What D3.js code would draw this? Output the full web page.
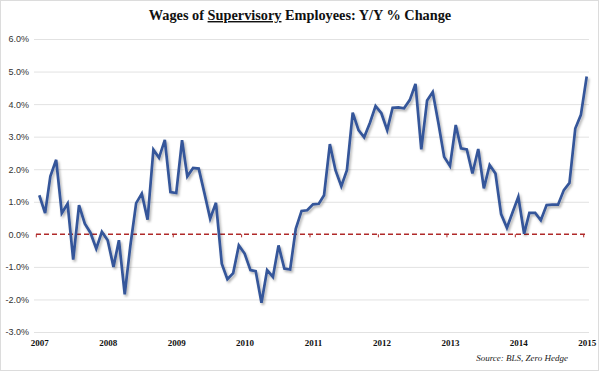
<!DOCTYPE html>
<html lang="en">

<head>
    <meta charset="UTF-8">
    <title>Wages of Supervisory Employees</title>
    <script src="https://cdn.jsdelivr.net/npm/d3@7"></script>
    <style>
        body { margin: 0; background: #fff; }
        svg { display: block; }
    </style>
</head>

<body>
    <div id="box"></div>

    <script>
        // monthly Y/Y % change, Jan 2007 .. Jan 2015
        var startMonth = new Date(2007, 0, 1);
        var endMonth = new Date(2015, 0, 1);
        var values2007 = [1.2, 0.65, 1.78, 2.29, 0.65, 0.94, -0.78, 0.9, 0.33, 0.05, -0.44, 0.08];
        var values2008 = [-0.18, -1.0, -0.18, -1.84, -0.35, 0.96, 1.25, 0.45, 2.6, 2.35, 2.9, 1.3];
        var values2009 = [1.27, 2.89, 1.78, 2.04, 2.02, 1.25, 0.48, 0.97, -0.9, -1.38, -1.19, -0.34];
        var values2010 = [-0.59, -1.1, -1.13, -2.1, -1.1, -1.31, -0.34, -1.05, -1.08, 0.17, 0.72, 0.74];
        var values2011 = [0.92, 0.94, 1.2, 2.77, 1.97, 1.48, 1.97, 3.74, 3.2, 2.98, 3.43, 3.94];
        var values2012 = [3.72, 3.2, 3.89, 3.9, 3.87, 4.13, 4.62, 2.61, 4.11, 4.37, 3.4, 2.38];
        var values2013 = [2.1, 3.36, 2.64, 2.61, 1.87, 2.62, 1.41, 2.13, 1.87, 0.62, 0.2, 0.67];
        var values2014 = [1.15, 0.02, 0.66, 0.66, 0.43, 0.9, 0.91, 0.91, 1.36, 1.58, 3.25, 3.67];
        var values2015 = [4.85];
        var yTicks = [-3, -2, -1, 0, 1, 2, 3, 4, 5, 6];
        var yearLabels = ["2007", "2008", "2009", "2010", "2011", "2012", "2013", "2014", "2015"];

        var values = [].concat(values2007, values2008, values2009, values2010, values2011,
            values2012, values2013, values2014, values2015);
        var months = d3.timeMonth.range(startMonth, d3.timeMonth.offset(endMonth, 1));
        var data = months.map((m, i) => ({ date: m, value: values[i] }));

        let width = 600,
            height = 372;

        var x = d3.scaleTime()
            .domain([startMonth, endMonth])
            .range([39.3, 586.7]);

        var y = d3.scaleLinear()
            .domain([-3, 6])
            .range([332, 39]);

        const svg = d3.select("#box")
            .append('svg')
            .attr('width', width)
            .attr('height', height);

        // shadow under the line, like the excel original
        svg.append('defs').append('filter')
            .attr('id', 'shadow')
            .attr('x', '-5%').attr('y', '-5%')
            .attr('width', '110%').attr('height', '110%')
            .append('feDropShadow')
            .attr('dx', 1.5).attr('dy', 2)
            .attr('stdDeviation', 1.2)
            .attr('flood-color', '#000')
            .attr('flood-opacity', 0.3);

        // frame
        svg.append('rect')
            .attr('x', 0.5).attr('y', 0.5)
            .attr('width', width - 2).attr('height', 370)
            .attr('fill', '#fff')
            .attr('stroke', '#dcdcdc');

        // title
        var title = svg.append('text')
            .attr('x', 300).attr('y', 20)
            .attr('text-anchor', 'middle')
            .style('font-family', '"Liberation Serif", serif')
            .style('font-weight', 'bold')
            .style('font-size', '14.3px')
            .attr('fill', '#111');
        title.append('tspan').text('Wages of ');
        title.append('tspan').text('Supervisory').style('text-decoration', 'underline');
        title.append('tspan').text(' Employees: Y/Y % Change');

        // gridlines
        svg.append('g')
            .selectAll('line')
            .data(yTicks.filter(d => d !== 0))
            .enter()
            .append('line')
            .attr('x1', 34).attr('x2', 589)
            .attr('y1', d => y(d) + 0.5).attr('y2', d => y(d) + 0.5)
            .attr('stroke', '#e2e2e2');

        // y axis labels
        var yAxis = d3.axisLeft(y)
            .tickValues(yTicks)
            .tickFormat(d => d.toFixed(1) + '%')
            .tickSize(0)
            .tickPadding(1);
        var gy = svg.append('g')
            .attr('transform', 'translate(30,0)')
            .call(yAxis);
        gy.select('.domain').remove();
        gy.selectAll('text')
            .style('font-family', '"Liberation Sans", Arial, sans-serif')
            .style('font-size', '9px')
            .attr('fill', '#333');

        // x axis labels
        var xAxis = d3.axisBottom(x)
            .tickValues(yearLabels.map(s => new Date(+s, 0, 1)))
            .tickFormat(d3.timeFormat('%Y'))
            .tickSize(0)
            .tickPadding(8);
        var gx = svg.append('g')
            .attr('transform', 'translate(0,332)')
            .call(xAxis);
        gx.select('.domain').remove();
        gx.selectAll('text')
            .style('font-family', '"Liberation Serif", serif')
            .style('font-weight', 'bold')
            .style('font-size', '9px')
            .attr('fill', '#111');

        // zero line (dashed red) with small ticks between years
        svg.append('line')
            .attr('x1', 36).attr('x2', 587)
            .attr('y1', y(0)).attr('y2', y(0))
            .attr('stroke', '#b02a2a')
            .attr('stroke-width', 1.5)
            .attr('stroke-dasharray', '5,3');
        svg.append('g')
            .selectAll('line')
            .data(yearLabels)
            .enter()
            .append('line')
            .attr('x1', s => x(new Date(+s - 1, 11, 16)))
            .attr('x2', s => x(new Date(+s - 1, 11, 16)))
            .attr('y1', y(0)).attr('y2', y(0) + 3)
            .attr('stroke', '#b02a2a')
            .attr('stroke-width', 1);

        // series line
        var line = d3.line()
            .x(d => x(d.date))
            .y(d => y(d.value));

        svg.append('path')
            .datum(data)
            .attr('d', line)
            .attr('fill', 'none')
            .attr('stroke', '#35569a')
            .attr('stroke-width', 2.7)
            .attr('stroke-linejoin', 'miter')
            .attr('stroke-miterlimit', 4)
            .attr('filter', 'url(#shadow)');

        // source
        svg.append('text')
            .attr('x', 568).attr('y', 361)
            .attr('text-anchor', 'end')
            .style('font-family', '"Liberation Serif", serif')
            .style('font-style', 'italic')
            .style('font-size', '9px')
            .attr('fill', '#222')
            .text('Source: BLS, Zero Hedge');
    </script>
</body>

</html>
